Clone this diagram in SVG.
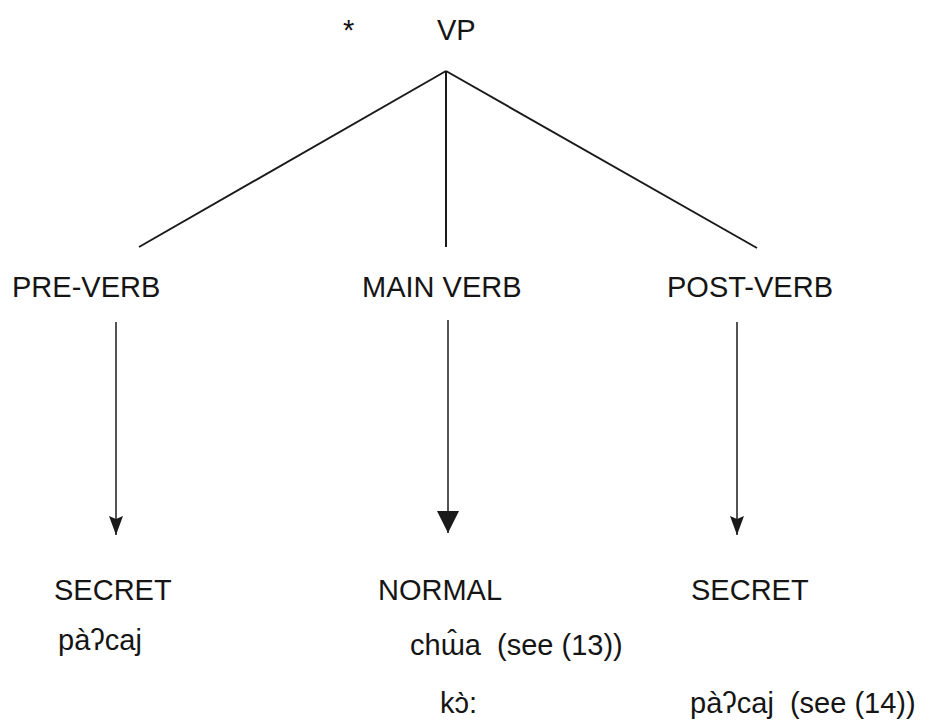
<svg xmlns="http://www.w3.org/2000/svg" width="927" height="724" viewBox="0 0 927 724">
  <style>
    text { font-family: "Liberation Sans", Arial, sans-serif; font-size: 29px; fill: #151515; white-space: pre; }
    .branch { stroke: #1a1a1a; stroke-width: 2; fill: none; }
    .shaft { stroke: #1a1a1a; stroke-width: 1.5; fill: none; }
  </style>
  <defs>
    <!-- narrow notched head for the side arrows, drawn pointing down -->
    <marker id="headNarrow" markerWidth="14" markerHeight="19" refX="7" refY="19" markerUnits="userSpaceOnUse" viewBox="0 0 14 19">
      <path d="M0,0 L7,3 L14,0 L7,19 Z" fill="#1a1a1a"/>
    </marker>
    <!-- solid head for the centre arrow, drawn pointing down -->
    <marker id="headWide" markerWidth="22" markerHeight="22" refX="11" refY="22" markerUnits="userSpaceOnUse" viewBox="0 0 22 22">
      <path d="M0,0 L22,0 L11,22 Z" fill="#1a1a1a"/>
    </marker>
  </defs>

  <g id="vp">
    <text x="343" y="40">*</text>
    <text x="437" y="40">VP</text>
  </g>

  <g id="pre-verb">
    <text x="12" y="297">PRE-VERB</text>
  </g>
  <g id="main-verb">
    <text x="362" y="297">MAIN VERB</text>
  </g>
  <g id="post-verb">
    <text x="667" y="297">POST-VERB</text>
  </g>

  <g id="secret-left">
    <text x="54" y="600">SECRET</text>
    <text x="58" y="650">pàʔcaj</text>
  </g>
  <g id="normal">
    <text x="378" y="600">NORMAL</text>
    <text x="410" y="655">chɯ̂a  (see (13))</text>
    <text x="440" y="713">kɔ̀:</text>
  </g>
  <g id="secret-right">
    <text x="691" y="600">SECRET</text>
    <text x="690" y="713">pàʔcaj  (see (14))</text>
  </g>

  <g id="connectors">
    <line class="branch" x1="446" y1="71" x2="139" y2="247"/>
    <line class="branch" x1="446" y1="71" x2="446" y2="247"/>
    <line class="branch" x1="446" y1="71" x2="757" y2="248"/>
    <line class="shaft" x1="116" y1="322" x2="116" y2="535" marker-end="url(#headNarrow)"/>
    <line class="shaft" x1="448" y1="320" x2="448" y2="533" marker-end="url(#headWide)"/>
    <line class="shaft" x1="737" y1="322" x2="737" y2="535" marker-end="url(#headNarrow)"/>
  </g>
</svg>
